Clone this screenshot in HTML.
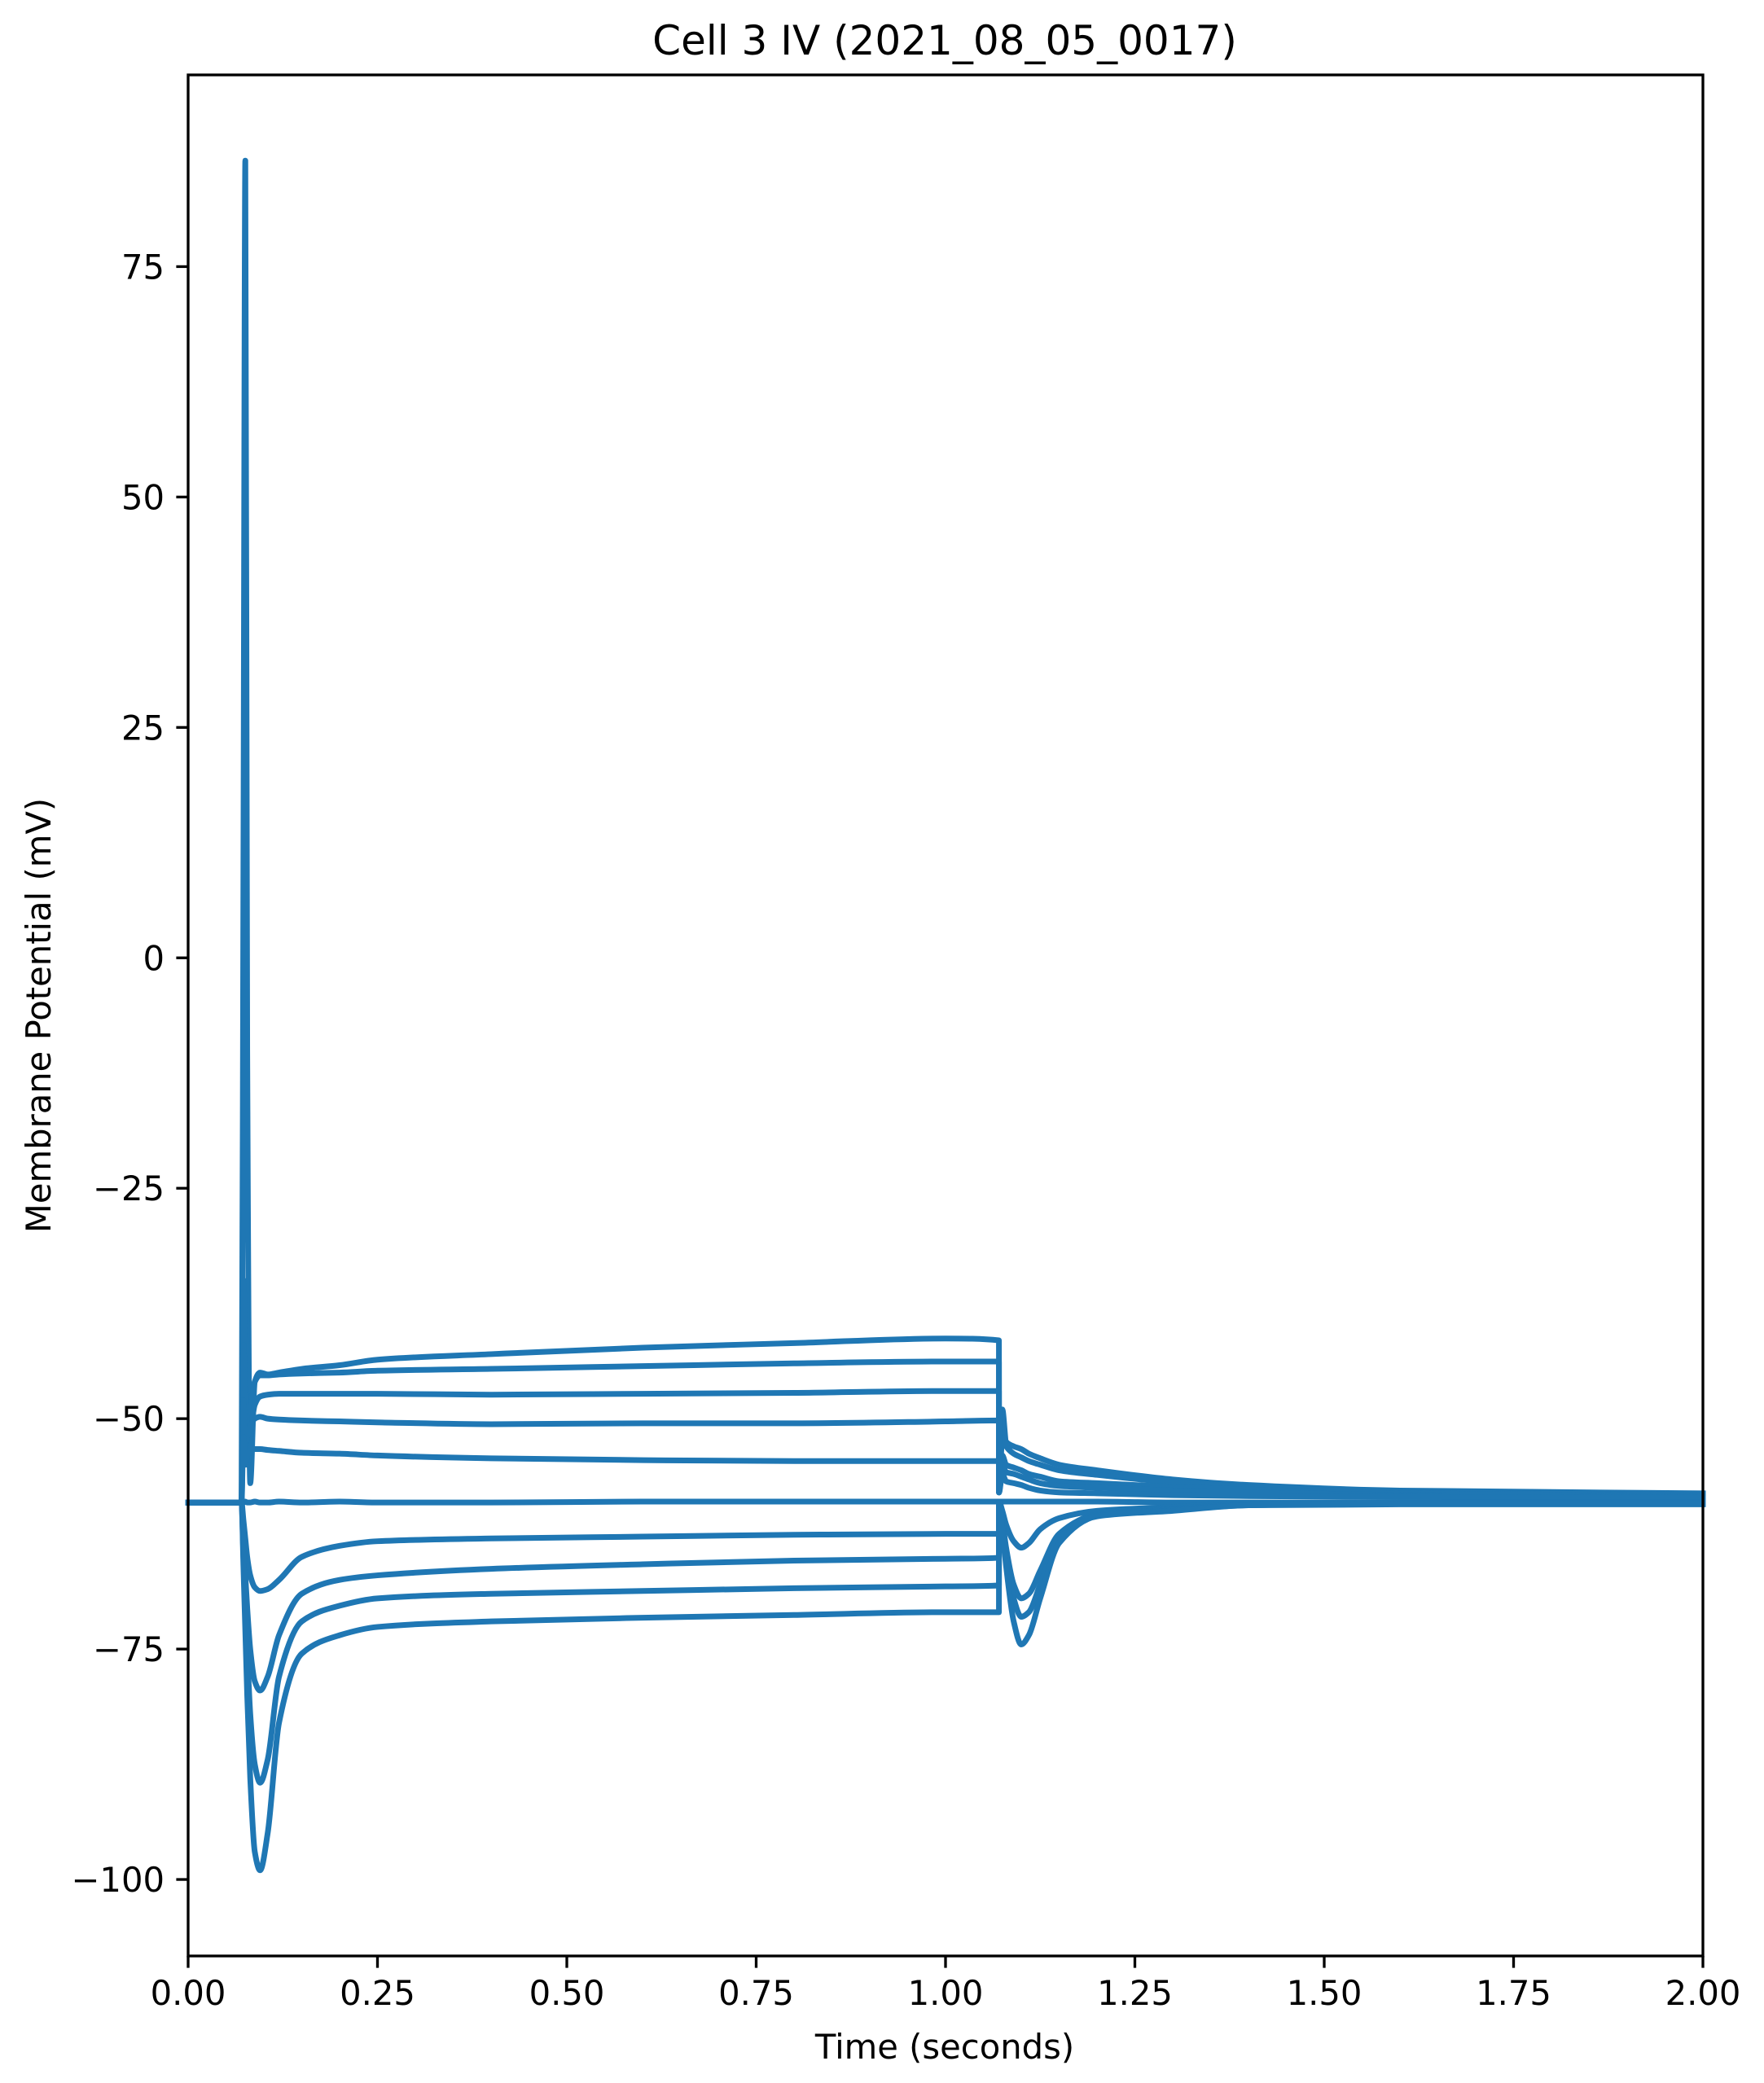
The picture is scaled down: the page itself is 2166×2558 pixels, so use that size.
<!DOCTYPE html>
<html><head><meta charset="utf-8">
<style>
html,body{margin:0;padding:0;background:#fff;}
svg{display:block;font-family:"DejaVu Sans","Liberation Sans",sans-serif;}
</style></head>
<body>
<svg id="chart" width="2166" height="2558" viewBox="0 0 2166 2558" xmlns="http://www.w3.org/2000/svg">
<rect x="0" y="0" width="2166" height="2558" fill="#fff"/>
<g id="traces"></g>
<g id="axes"></g>
<text x="1160" y="67" font-size="50" text-anchor="middle">Cell 3 IV (2021_08_05_0017)</text>
<text x="1160" y="2528" font-size="41.7" text-anchor="middle">Time (seconds)</text>
<text transform="translate(62,1247) rotate(-90)" font-size="41.7" text-anchor="middle">Membrane Potential (mV)</text>
</svg>
<script>
const times = [0, 0.0705, 0.073, 0.0755, 0.078, 0.082, 0.088, 0.095, 0.105, 0.12, 0.15, 0.2, 0.25, 0.4, 0.6, 0.8, 1.0, 1.0705, 1.0706, 1.075, 1.08, 1.09, 1.1, 1.11, 1.125, 1.15, 1.2, 1.3, 1.4, 1.6, 2.0];
const sweep1 = [-59.1,-59.1,10,86.5,-10,-57,-46,-45,-45.2,-45,-44.6,-44.2,-43.6,-43,-42.3,-41.8,-41.3,-41.5,-58,-49,-52.5,-53,-53.3,-53.8,-54.3,-55,-55.6,-56.6,-57.2,-57.8,-58.1];
const sweep2 = [-59.1,-59.1,-35,-45,-54,-50,-46,-45.3,-45.3,-45.2,-45.1,-45,-44.8,-44.6,-44.3,-44,-43.8,-43.8,-58,-52,-53,-53.8,-54.2,-54.6,-55,-55.6,-56.1,-56.9,-57.4,-57.9,-58.2];
const sweep3 = [-59.1,-59.1,-42,-50,-55,-52,-48.5,-47.6,-47.4,-47.3,-47.3,-47.3,-47.3,-47.4,-47.3,-47.2,-47,-47,-58,-54,-55,-55.3,-55.6,-56,-56.3,-56.8,-57.0,-57.4,-57.7,-58.1,-58.4];
const sweep4 = [-59.1,-59.1,-48,-53,-52,-51,-50,-49.8,-50,-50.1,-50.2,-50.3,-50.4,-50.6,-50.5,-50.5,-50.3,-50.2,-58,-55,-55.8,-56,-56.3,-56.6,-57,-57.3,-57.5,-57.8,-58.0,-58.3,-58.5];
const sweep5 = [-59.1,-59.1,-52,-55,-54,-53.5,-53.3,-53.3,-53.4,-53.5,-53.7,-53.8,-54,-54.3,-54.5,-54.6,-54.6,-54.6,-58,-56,-56.8,-57,-57.2,-57.5,-57.8,-58,-58.1,-58.3,-58.4,-58.5,-58.6];
const sweep6 = [-59.1,-59.1,-59.1,-59.0,-59.1,-59.1,-59.0,-59.1,-59.1,-59.0,-59.1,-59.0,-59.1,-59.1,-59.0,-59.0,-59.0,-59.0,-59.0,-59.0,-59.0,-59.0,-59.0,-59.0,-59.0,-59.0,-59.0,-59.1,-59.1,-59.1,-59.1];
const sweep7 = [-59.1,-59.1,-61,-63,-65,-67,-68.3,-68.7,-68.5,-67.5,-65,-63.8,-63.3,-63,-62.8,-62.6,-62.5,-62.5,-59,-60,-61.5,-63.3,-64,-63.5,-62,-60.8,-60.0,-59.6,-59.2,-59.1,-59.1];
const sweep8 = [-59.1,-59.1,-63,-67,-70.5,-75,-78.5,-79.5,-78,-73.5,-69,-67.5,-67,-66.3,-65.8,-65.4,-65.2,-65.1,-59,-61,-64,-68,-69.5,-69,-66.5,-62.5,-60.4,-59.8,-59.3,-59.2,-59.2];
const sweep9 = [-59.1,-59.1,-65,-70,-75,-82,-87.5,-89.5,-87,-78,-72,-70.3,-69.5,-69,-68.7,-68.4,-68.2,-68.1,-59,-61,-64.5,-69.5,-71.5,-71,-68,-63,-60.5,-59.9,-59.4,-59.2,-59.2];
const sweep10 = [-59.1,-59.1,-66,-73,-80,-89,-97,-99,-95,-83,-75.5,-73.5,-72.6,-72,-71.6,-71.3,-71,-71,-59,-62,-66,-72,-74.5,-73.5,-69.5,-63.5,-60.6,-60.0,-59.4,-59.3,-59.3];
const sweeps = [sweep1, sweep2, sweep3, sweep4, sweep5, sweep6, sweep7, sweep8, sweep9, sweep10];
const xTicks = [0, 0.25, 0.5, 0.75, 1.0, 1.25, 1.5, 1.75, 2.0];
const xTickLabels = ["0.00","0.25","0.50","0.75","1.00","1.25","1.50","1.75","2.00"];
const yTicks = [-100, -75, -50, -25, 0, 25, 50, 75];
const yTickLabels = ["\u2212100","\u221275","\u221250","\u221225","0","25","50","75"];

const L = 231, R = 2091, T = 92, B = 2402;
const xMin = 0, xMax = 2, yMin = -108.3, yMax = 95.8;
const NS = 'http://www.w3.org/2000/svg';
function sx(t){ return L + (t - xMin) / (xMax - xMin) * (R - L); }
function sy(v){ return B - (v - yMin) / (yMax - yMin) * (B - T); }
function mk(tag, attrs){ const e = document.createElementNS(NS, tag); for (const k in attrs) e.setAttribute(k, attrs[k]); return e; }

function monotonePath(xs, ys){
  const n = xs.length, d = [], m = new Array(n);
  for (let i = 0; i < n - 1; i++) d.push((ys[i+1] - ys[i]) / Math.max(xs[i+1] - xs[i], 1e-6));
  m[0] = d[0]; m[n-1] = d[n-2];
  for (let i = 1; i < n - 1; i++) {
    if (d[i-1] * d[i] <= 0) m[i] = 0;
    else { const w1 = 2*(xs[i+1]-xs[i]) + (xs[i]-xs[i-1]), w2 = (xs[i+1]-xs[i]) + 2*(xs[i]-xs[i-1]);
      m[i] = (w1 + w2) / (w1 / d[i-1] + w2 / d[i]); }
  }
  let s = 'M' + xs[0].toFixed(2) + ',' + ys[0].toFixed(2);
  for (let i = 0; i < n - 1; i++) {
    const h = xs[i+1] - xs[i];
    s += ' C' + (xs[i] + h/3).toFixed(2) + ',' + (ys[i] + m[i]*h/3).toFixed(2) + ' ' +
         (xs[i+1] - h/3).toFixed(2) + ',' + (ys[i+1] - m[i+1]*h/3).toFixed(2) + ' ' +
         xs[i+1].toFixed(2) + ',' + ys[i+1].toFixed(2);
  }
  return s;
}

const tg = document.getElementById('traces');
sweeps.forEach((s, i) => {
  const xs = times.map(sx), ys = s.map(sy);
  const p = mk('path', {d: monotonePath(xs, ys), fill: 'none', stroke: '#1f77b4', 'stroke-width': 7, 'stroke-linejoin': 'round', 'stroke-linecap': 'square'});
  
  
  tg.appendChild(p);
});

const ag = document.getElementById('axes');
const frame = mk('rect', {x: L, y: T, width: R - L, height: B - T, fill: 'none', stroke: '#000', 'stroke-width': 3.33});


ag.appendChild(frame);

xTicks.forEach((t, i) => {
  const x = sx(t);
  const tk = mk('line', {x1: x, y1: B, x2: x, y2: B + 14.6, stroke: '#000', 'stroke-width': 3.33});
  
  
  ag.appendChild(tk);
  const lb = mk('text', {x: x, y: B + 29 + 31, 'font-size': 41.7, 'text-anchor': 'middle'});
  lb.textContent = xTickLabels[i];
  
  
  ag.appendChild(lb);
});
yTicks.forEach((v, i) => {
  const y = sy(v);
  const tk = mk('line', {x1: L - 14.6, y1: y, x2: L, y2: y, stroke: '#000', 'stroke-width': 3.33});
  
  
  ag.appendChild(tk);
  const lb = mk('text', {x: L - 29, y: y + 15, 'font-size': 41.7, 'text-anchor': 'end'});
  lb.textContent = yTickLabels[i];
  
  
  ag.appendChild(lb);
});
</script>
</body></html>
